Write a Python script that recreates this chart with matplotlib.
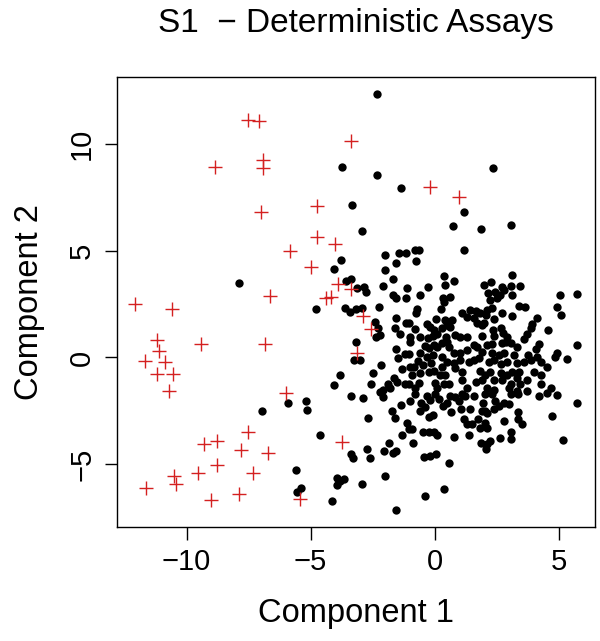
import matplotlib.pyplot as plt

# black dots (deterministic assays)
x_black = [-2.33, -3.73, -2.33, 2.34, -1.37, -3.34, 1.19, 0.76, 1.88, 3.09, -2.93,
           -7.89, -5.90, -6.96,
           -3.78, -4.04, -3.57, -3.38, -3.14, -2.84, -2.76, -4.79, -3.63, -3.40, -3.16, -2.91,
           -2.26, -2.40, -2.30, -2.35, -2.19, -3.16, -3.24, -3.00, -3.81, -4.04, -2.49, -2.56,
           -2.17, -1.86, -2.08, -2.02, -2.02, -1.57, -1.69, -1.45, -1.16, -0.78, -0.64, -0.76,
           -2.08, -1.11, -0.28, 0.37, -1.69, -1.55, -1.15, -0.58, 0.34, -0.71, -0.75, 0.27,
           -1.55, -1.14, -1.05, -1.59, -0.80, -1.41, -0.31, -0.20, 0.06, -0.04, 0.10, 0.30,
           -0.98, -0.58, -0.28, -0.06, -0.98, -0.40, -0.24, -0.04, 0.10, 0.30, -1.55, -1.18,
           -1.05, -1.49, -0.60, -0.67, -0.31, -0.06, 0.30, -0.14, -1.01, -0.84, -1.32, -0.48,
           -0.24, -0.01, -0.91, -0.58, 0.30, 0.23, -1.65, -1.52, -1.18, -1.05, -1.79, -0.64,
           -0.78, 0.03, 0.10, 0.37,
           1.17, 0.77, 0.42, 3.13, 1.98, 2.28, 2.72, 2.79, 3.09, 3.44, 2.14, 2.45, 2.63, 3.13,
           2.25, 2.52, 5.05, 5.76, 4.95, 5.08, 5.76, 3.40, 3.63, 2.32, 2.72, 3.13, 4.14, 3.94,
           3.87, 4.57, 3.73, 3.60, 0.61, 0.36, 1.11, 1.31, 1.44, 1.65, 1.82, 2.12, 2.09, 1.60,
           1.71, 1.91, 1.98, 2.39, 0.43, 0.70, 0.50, 0.63, 2.36, 2.66, 2.76, 0.84, 1.04, 1.31,
           1.91, 2.41, 2.93, 2.86, 3.06, 0.47, 0.50, 0.57, 1.58, 1.69, 2.12, 2.32, 2.72, 3.33,
           4.21, 4.07, 1.31, 1.04, 0.77, 1.91, 2.32, 2.59, 2.79, 3.19, 3.76, 3.87, 4.92, 4.85,
           5.32, 4.14, 4.27, 3.60, 0.50, 0.77, 1.04, 1.38, 1.58, 1.78, 2.18, 2.39, 2.66, 2.93,
           3.33, 4.54, 4.00, 0.84, 1.11, 1.85, 2.05, 2.25, 2.66, 2.93, 3.13, 3.40, 0.43, 0.57,
           1.11, 1.65, 1.91, 2.39, 2.72, 3.06, 3.33, 3.44, 3.73, 4.27, 4.68, 4.27, 1.31, 2.12,
           2.39, 2.99, 3.33,
           -5.18, -5.16, -3.36, -2.89, -2.19, -2.08, -2.69, -4.62, -1.85, -2.03, -1.68, -1.54,
           -3.36, -3.27, -2.73, -2.62, -5.60, -3.94, -3.67, -3.92, -3.81, -2.91, -1.99, -5.40,
           -5.53, -4.15, -1.54, -0.37, 0.37, -1.72, -1.61, -1.36, -1.01, -0.78, -0.53, -0.37,
           -0.57, -0.31, -0.20, 0.03, 0.17, 0.34, -0.24, -0.06, -1.11, -1.05, -1.32, -0.91,
           -0.87, -0.47, -0.24, -0.04, 0.10, -0.44, -0.20, 0.06,
           0.63, 0.50, 0.84, 1.11, 1.24, 1.58, 0.97, 0.66, 1.07, 1.44, 1.95, 2.05, 2.12, 1.91,
           2.39, 2.45, 2.59, 2.79, 2.99, 2.05, 2.32, 3.09, 3.36, 3.73, 4.21, 4.54, 4.92, 5.76,
           4.72, 3.36, 1.17, 1.31, 1.51, 1.75, 2.05, 2.12, 1.82, 2.79, 3.36, 3.53, 3.09, 3.09,
           2.63, 2.25, 2.12, 2.09, 1.87, 1.40, 0.80, 5.18, 0.57]
y_black = [12.35, 8.93, 8.55, 8.85, 7.92, 7.14, 6.83, 6.17, 6.02, 6.21, 5.94,
           3.47, -2.11, -2.50,
           4.57, 4.13, 3.58, 3.67, 3.24, 3.28, 3.08, 2.28, 2.33, 2.14, 2.25, 2.33,
           2.38, 1.64, 1.36, 0.97, 1.05, 0.74, -0.12, -0.12, -0.83, -1.29, -0.72, -1.22,
           -0.36, -1.25, -1.50, 4.80, 4.10, 4.41, 3.69, 4.88, 4.88, 5.03, 5.03, 4.53,
           3.36, 3.24, 3.32, 3.81, 2.92, 2.80, 2.80, 2.92, 2.80, 2.25, 2.07, 2.25,
           1.83, 1.60, 1.63, 1.39, 1.32, 1.10, 1.57, 1.44, 1.78, 1.28, 1.10, 1.36,
           0.94, 0.97, 0.89, 1.00, 0.71, 0.53, 0.42, 0.58, 0.50, 0.66, 0.38, 0.16,
           0.16, -0.04, 0.22, -0.15, 0.03, 0.11, 0.03, -0.28, -0.44, -0.44, -0.54, -0.36,
           -0.67, -0.62, -0.83, -0.75, -0.44, -0.83, -0.98, -1.14, -1.22, -1.25, -1.45, -1.19,
           -1.45, -1.19, -1.45, -1.22,
           5.03, 3.60, 3.39, 3.86, 3.39, 3.55, 3.28, 3.16, 3.35, 3.35, 3.03, 3.08, 2.92, 2.92,
           2.69, 2.77, 2.92, 2.97, 2.38, 1.99, 0.58, 2.41, 2.38, 2.30, 2.10, 1.94, 1.83, 1.56,
           1.36, 1.28, 1.10, 0.85, 2.85, 2.61, 2.07, 1.91, 2.22, 2.19, 2.07, 2.22, 1.99, 1.83,
           1.60, 1.52, 1.60, 1.78, 1.75, 1.75, 1.52, 1.44, 1.28, 1.36, 1.16, 1.05, 0.97, 0.94,
           1.00, 1.00, 0.97, 0.74, 0.66, 0.97, 0.74, 0.50, 0.58, 0.50, 0.58, 0.63, 0.66, 0.50,
           0.63, 0.38, 0.35, 0.19, 0.22, 0.27, 0.22, 0.11, 0.19, 0.11, 0.11, -0.12, 0.22, 0.03,
           -0.09, 0.03, -0.20, -0.20, -0.20, -0.28, -0.12, -0.20, -0.12, -0.04, -0.20, -0.12, -0.31, -0.20,
           -0.28, -0.44, -0.67, -0.51, -0.67, -0.62, -0.83, -0.67, -0.72, -0.83, -0.67, -0.67, -0.83, -1.22,
           -1.06, -1.14, -1.06, -1.06, -1.06, -1.22, -0.98, -1.25, -1.06, -0.83, -1.45, -1.22, -1.45, -1.45,
           -1.53, -1.45, -1.56,
           -2.06, -2.47, -1.80, -1.90, -1.61, -1.84, -2.81, -3.64, -4.01, -4.40, -4.45, -4.40,
           -4.50, -4.69, -4.30, -4.72, -5.28, -5.62, -5.70, -5.98, -5.78, -5.90, -5.55, -6.09,
           -6.28, -6.72, -7.15, -6.48, -6.17, -2.50, -2.84, -2.22, -2.06, -1.72, -2.11, -2.34,
           -2.50, -1.80, -2.00, -1.72, -1.95, -2.26, -2.78, -2.69, -3.05, -3.36, -3.62, -3.36,
           -3.98, -3.51, -3.51, -3.51, -3.62, -4.65, -4.62, -4.53,
           -1.80, -2.11, -1.87, -1.72, -1.80, -1.80, -2.06, -2.53, -2.42, -2.42, -2.11, -2.50, -2.58, -2.50,
           -2.42, -2.03, -2.26, -2.11, -2.19, -1.72, -1.72, -1.72, -1.72, -1.56, -1.80, -1.64, -1.76, -2.14,
           -2.73, -2.53, -2.89, -3.12, -3.12, -2.89, -3.05, -3.28, -3.28, -2.97, -2.89, -3.12, -3.51, -3.83,
           -3.78, -3.90, -4.06, -4.30, -3.98, -3.64, -3.70, -3.86, -4.92]

# red crosses (outliers)
x_red = [-7.52, -7.06, -8.85, -6.90, -6.90, -7.00, -5.83, -6.65, -12.09, -10.60, -11.21, -11.10,
         -11.68, -10.87, -11.18, -10.53, -10.70, -9.42, -6.84, -5.98, -7.53, -9.30, -8.78, -7.81,
         -6.73, -8.78, -9.55, -7.33, -10.49, -10.43, -11.65, -9.01, -7.88, -3.37, -0.20, 0.99,
         -4.73, -4.75, -4.01, -5.00, -3.88, -3.36, -4.39, -4.19, -2.87, -2.56, -3.13, -3.74, -5.43]
y_red = [11.10, 11.05, 8.91, 9.25, 8.88, 6.80, 5.00, 2.86, 2.50, 2.27, 0.81, 0.31,
         -0.15, -0.23, -0.78, -0.78, -1.59, 0.63, 0.63, -1.64, -3.47, -4.06, -3.91, -4.34,
         -4.48, -5.05, -5.39, -5.39, -5.55, -5.94, -6.09, -6.69, -6.41, 10.11, 8.00, 7.50,
         7.10, 5.64, 5.30, 4.25, 3.42, 3.19, 2.80, 2.85, 1.96, 1.33, 0.22, -3.95, -6.64]

plt.rcParams['font.family'] = ['Liberation Sans', 'DejaVu Sans']

fig = plt.figure(figsize=(6, 6.41), dpi=100)
ax = fig.add_axes([0.195, 0.178, 0.797, 0.702])

ax.plot(x_black, y_black, 'o', color='black', markersize=6.0, markeredgewidth=0)
ax.plot(x_red, y_red, '+', color='#d42020', markersize=10, markeredgewidth=1.0)

# R style 4% padding around data
xmin, xmax = min(x_black + x_red), max(x_black + x_red)
ymin, ymax = min(y_black + y_red), max(y_black + y_red)
dx, dy = 0.04 * (xmax - xmin), 0.04 * (ymax - ymin)
ax.set_xlim(xmin - dx, xmax + dx)
ax.set_ylim(ymin - dy, ymax + dy)

ax.set_xticks([-10, -5, 0, 5])
ax.set_yticks([-5, 0, 5, 10])
ax.set_xticklabels(['\u221210', '\u22125', '0', '5'])
ax.set_yticklabels(['\u22125', '0', '5', '10'], rotation=90, va='center')
ax.tick_params(direction='out', length=9, width=1, labelsize=21, pad=6)
for s in ax.spines.values():
    s.set_linewidth(1)

ax.set_xlabel('Component 1', fontsize=23.5, labelpad=16)
ax.set_ylabel('Component 2', fontsize=23.5, labelpad=17)
fig.suptitle('S1  \u2212 Deterministic Assays', fontsize=24, x=0.593, y=0.988)

fig.savefig('out.png')
